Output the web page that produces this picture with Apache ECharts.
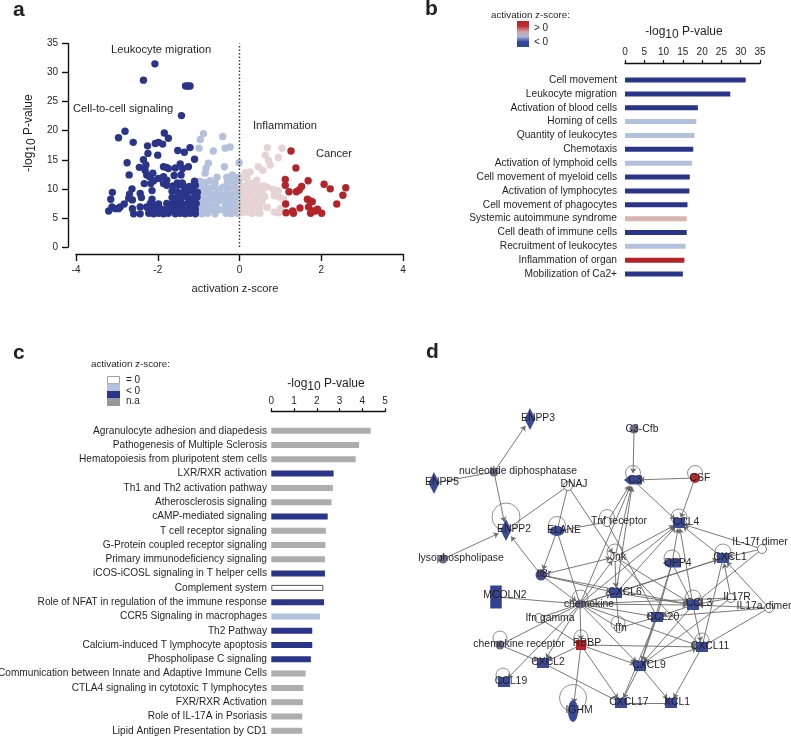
<!DOCTYPE html>
<html>
<head>
<meta charset="utf-8">
<style>html,body{margin:0;padding:0;background:#fff}#c{width:791px;height:736px}</style>
<script src="https://cdn.jsdelivr.net/npm/echarts@6/dist/echarts.min.js"></script>
</head>
<body>
<div id="c"></div>
<script>
// Panel a: [activation z-score, -log10 P]
var volcanoStrongDown = [[-2.07,31.5],[-2.35,28.7],[-1.32,27.7],[-1.26,27.7],[-1.21,27.7],[-1.42,22.6],
[-2.80,19.9],[-2.96,18.8],[-2.60,18.0],[-1.84,19.6],[-1.74,18.7],[-2.06,17.8],[-1.98,18.0],[-1.88,17.7],[-2.25,17.4],[-2.24,16.1],[-2.00,15.8],[-1.51,16.6],[-1.35,16.3],[-1.21,17.1],[-1.10,15.1],
[-2.75,14.5],[-2.35,15.0],[-2.29,14.1],[-2.45,13.7],[-1.86,13.8],[-1.79,13.7],[-1.74,13.5],[-1.57,13.6],[-1.45,14.3],[-1.39,13.5],[-1.25,13.8],[-2.70,12.4],[-2.27,12.4],[-2.31,13.2],[-2.12,12.7],[-2.20,12.1],[-1.98,11.8],[-1.86,12.1],[-1.78,11.5],[-1.60,12.3],[-1.43,12.4],
[-2.33,10.9],[-2.17,10.9],[-2.10,11.4],[-2.14,9.7],[-2.63,10.0],[-2.69,9.1],[-3.11,9.4],[-3.15,8.2],[-2.43,9.2],[-2.40,8.5],[-2.14,8.2],[-2.92,6.9],[-2.82,7.4],[-3.04,6.6],[-3.20,6.2],[-3.12,6.9],[-2.96,6.6],[-2.62,8.1],[-2.71,8.4],[-2.62,6.6],[-2.59,5.7],[-2.43,5.7],[-2.43,6.9],[-2.27,6.9],[-2.18,7.5],[-2.06,7.2],
[-2.22,6.6],[-2.22,5.8],[-2.10,5.7],[-1.98,5.8],[-1.86,5.7],[-1.74,5.8],[-1.57,5.7],[-1.45,5.8],[-1.33,5.7],[-1.21,5.8],[-1.08,5.7],
[-2.10,6.5],[-1.94,6.6],[-1.82,6.4],[-1.70,6.5],[-1.57,6.6],[-1.45,6.5],[-1.33,6.4],[-1.21,6.6],[-1.08,6.5],
[-1.98,7.4],[-1.78,7.5],[-1.65,7.4],[-1.53,7.6],[-1.41,7.5],[-1.29,7.4],[-1.17,7.6],[-1.06,7.5],
[-1.65,8.5],[-1.53,8.4],[-1.41,8.6],[-1.27,8.5],[-1.14,8.4],[-1.04,8.6],
[-1.65,9.6],[-1.52,9.5],[-1.37,9.4],[-1.25,9.6],[-1.12,9.5],[-1.03,9.4],
[-1.78,10.6],[-1.63,10.5],[-1.49,10.7],[-1.37,10.5],[-1.22,10.4],[-1.08,10.6],[-1.86,10.9],[-1.52,11.0],[-1.40,11.0],[-1.10,11.3]];
var volcanoMildDown = [[-0.88,19.5],[-0.96,18.5],[-0.41,19.0],[-0.99,17.0],[-0.64,16.5],[-0.35,17.0],[-0.23,17.2],[-0.01,14.5],[-0.76,14.4],[-0.82,13.5],[-0.37,13.8],[-0.84,12.7],[-0.55,12.0],[-0.17,12.4],[-0.31,12.0],[-0.02,12.0],
[-0.97,11.3],[-0.85,11.1],[-0.72,11.4],[-0.60,11.0],[-0.30,11.2],[-0.20,11.5],[-0.10,11.0],[-0.02,11.3],
[-0.97,10.2],[-0.85,10.3],[-0.75,10.1],[-0.62,10.3],[-0.50,10.0],[-0.40,10.3],[-0.28,10.2],[-0.15,10.3],[-0.05,10.1],
[-0.93,9.2],[-0.80,9.3],[-0.68,9.1],[-0.55,9.2],[-0.42,9.0],[-0.30,9.3],[-0.18,9.1],[-0.05,9.2],
[-0.97,8.2],[-0.83,8.1],[-0.70,8.3],[-0.58,8.2],[-0.47,8.0],[-0.35,8.2],[-0.22,8.3],[-0.10,8.1],[-0.02,8.3],
[-0.95,7.2],[-0.82,7.3],[-0.70,7.1],[-0.57,7.2],[-0.35,7.1],[-0.25,7.3],[-0.13,7.2],[-0.03,7.1],
[-0.98,6.4],[-0.85,6.3],[-0.72,6.5],[-0.60,6.3],[-0.50,6.4],[-0.35,6.3],[-0.25,6.5],[-0.12,6.4],[-0.02,6.3],
[-0.92,5.7],[-0.78,5.8],[-0.60,5.7],[-0.33,5.8],[-0.20,5.7],[-0.05,5.8]];
var volcanoMildUp = [[0.68,17.1],[1.04,17.0],[0.63,15.8],[0.95,15.4],[0.71,14.9],[0.75,14.1],[0.46,13.8],[0.57,13.2],[0.14,12.8],[0.26,12.9],[0.18,11.8],[0.42,11.5],[0.30,10.9],[0.10,12.0],
[0.05,10.5],[0.18,10.6],[0.32,10.4],[0.45,10.6],[0.60,10.5],[0.68,10.3],
[0.10,9.8],[0.25,9.7],[0.40,9.9],[0.55,9.6],[0.83,9.9],[0.95,9.7],
[0.07,8.8],[0.20,8.9],[0.33,8.7],[0.48,8.9],[0.62,8.7],[0.85,8.8],[0.97,8.6],
[0.05,7.7],[0.17,7.8],[0.30,7.6],[0.43,7.7],[0.55,7.8],[1.08,8.2],[0.38,7.1],
[0.10,6.8],[0.25,6.7],[0.38,6.9],[0.50,6.7],[0.68,6.8],[1.00,6.6],
[0.05,5.9],[0.18,6.0],[0.30,5.8],[0.45,5.9],[0.50,5.8],[0.85,6.0],[0.95,5.9],[1.05,6.0]];
var volcanoStrongUp = [[1.26,16.5],[1.38,13.6],[1.12,11.6],[1.12,10.6],[1.21,9.5],[1.39,9.5],[1.46,9.8],[1.52,10.4],[1.68,11.4],[2.07,10.8],[2.22,10.0],[2.60,10.2],[2.53,8.9],[2.38,7.4],[1.13,7.4],[1.66,8.2],[1.73,7.9],[1.78,7.8],[1.69,6.9],[1.48,6.7],[1.30,6.2],[1.14,5.9],[1.32,5.8],[1.74,5.8],[1.85,6.2],[1.91,6.5],[2.01,5.8],[1.79,6.2]];

// Panel b
var functionNames = ["Cell movement","Leukocyte migration","Activation of blood cells","Homing of cells","Quantity of leukocytes","Chemotaxis","Activation of lymphoid cells","Cell movement of myeloid cells","Activation of lymphocytes","Cell movement of phagocytes","Systemic autoimmune syndrome","Cell death of immune cells","Recruitment of leukocytes","Inflammation of organ","Mobilization of Ca2+"];
var functionValues = [31.3,27.3,18.9,18.5,18.0,17.7,17.4,16.8,16.7,16.2,16.0,16.0,15.7,15.4,15.0];
var functionGroups = ["d","d","d","l","l","d","l","d","d","d","p","d","l","r","d"];

// Panel c
var pathwayNames = ["Agranulocyte adhesion and diapedesis","Pathogenesis of Multiple Sclerosis","Hematopoiesis from pluripotent stem cells","LXR/RXR activation","Th1 and Th2 activation pathway","Atherosclerosis signaling","cAMP-mediated signaling","T cell receptor signaling","G-Protein coupled receptor signaling","Primary immunodeficiency signaling","iCOS-iCOSL signaling in T helper cells","Complement system","Role of NFAT in regulation of the immune response","CCR5 Signaling in macrophages","Th2 Pathway","Calcium-induced T lymphocyte apoptosis","Phospholipase C signaling","Communication between Innate and Adaptive Immune Cells","CTLA4 signaling in cytotoxic T lymphocytes","FXR/RXR Activation","Role of IL-17A in Psoriasis","Lipid Antigen Presentation by CD1"];
var pathwayValues = [4.37,3.86,3.71,2.74,2.71,2.65,2.48,2.40,2.38,2.36,2.36,2.29,2.32,2.14,1.80,1.80,1.74,1.51,1.41,1.39,1.36,1.36];
var pathwayGroups = ["n","n","n","d","n","n","d","n","n","n","d","z","d","l","d","d","d","n","n","n","n","n"];

// Panel d: network layout [name, x, y, kind, labelDx, labelDy]
var networkNodes = [
["ENPP3",530,419,"dia",8,-1],["nucleotide diphosphatase",494,472,"grey",24,-1],["ENPP5",434,483,"dia",8,-1],["ENPP2",506,530,"dia",8,-1],
["DNAJ",568,486,"white",6,-2],["ELANE",557,531,"ell",7,-1],["lysophospholipase",443,559,"grey",18,-1],["C3-Cfb",634,429,"grey",8,0],
["C3",633,480,"wide",2,0],["CSF",695,478,"red",5,0],["CCL4",679,523,"sq",7,-1],["IL-17f dimer",762,549,"white",-2,-7],
["CXCL1",723,558,"sq",7,-1],["DPP4",672,563,"wide",6,0],["Tnf receptor",607,522,"white",12,-1],["Jnk",615,557,"white",3,0],
["Il8r",541,575,"ell2",3,-1],["CXCL6",616,593,"sq",9,-1],["CCL3",693,605,"sq",6,-2],["IL17R",731,598,"white",6,-1],
["IL17a dimer",769,608,"white",-5,-2],["CCL20",657,617,"sq",6,0],["chemokine",580,604,"grey",9,0],["MCOLN2",496,597,"tall",9,-2],
["Ifn gamma",539,618,"white",11,0],["Ifn",619,628,"white",2,0],["chemokine receptor",500,645,"grey",19,-1],["RBBP",581,645,"redsq",6,-2],
["CXCL2",543,663,"sq",5,-1],["CXCL9",640,666,"sq",9,-1],["CXCL11",702,647,"sq",8,-1],["CCL19",504,682,"sq",7,-1],
["CXCL17",621,703,"sq",8,-1],["XCL1",671,703,"sq",6,-1],["IGHM",573,711,"tallell",6,-1]];
// self-loops: [centre x, centre y, diameter]
var networkLoops = [[506,517,28],[557,525,17],[633,473,15],[695,473,15],[679,517,16],[723,552,16],[672,558,16],[607,517,15],[615,552,16],[693,598,16],[580,598,16],[618,623,14],[500,638,14],[581,637,14],[702,640,14],[503,675,14],[573,698,27]];
// edges: [from, to, arrow at end]
var networkEdges = [
["nucleotide diphosphatase","ENPP3",1],["nucleotide diphosphatase","ENPP5",0],["nucleotide diphosphatase","ENPP2",1],["ENPP2","DNAJ",0],["lysophospholipase","ENPP2",1],["Il8r","ENPP2",1],
["DNAJ","ELANE",0],["DNAJ","Jnk",1],["ELANE","Il8r",1],["ELANE","chemokine",0],["Tnf receptor","ELANE",0],["C3-Cfb","C3",1],["CSF","C3",1],["C3","CCL4",1],["CSF","CCL4",1],
["Jnk","C3",1],["Tnf receptor","C3",1],["chemokine","C3",1],["CXCL6","C3",1],["Il8r","Jnk",1],["IL-17f dimer","CCL4",1],["CXCL1","CCL4",1],["DPP4","CCL4",1],["CCL3","CCL4",1],["Jnk","CCL4",1],["chemokine","CCL4",1],["CXCL6","CCL4",1],
["IL-17f dimer","CXCL1",1],["IL17a dimer","CXCL1",1],["IL17R","CXCL1",1],["IL-17f dimer","CCL3",1],["chemokine","CXCL1",1],["CXCL6","CXCL1",1],["Jnk","CCL3",1],["DPP4","CCL20",0],["DPP4","CCL3",0],["CCL3","CCL20",1],
["IL17a dimer","CCL3",1],["IL17R","CCL3",1],["IL17a dimer","CCL20",0],["IL17a dimer","CXCL11",0],["IL17R","CXCL9",1],["CXCL6","CCL3",1],["chemokine","CCL3",1],["chemokine","IL17R",0],["chemokine","CCL20",1],["chemokine","CXCL11",1],["chemokine","CXCL9",1],["chemokine","CXCL6",1],["chemokine","Ifn",0],["chemokine","RBBP",1],["chemokine","CXCL2",1],["chemokine","CCL19",1],["chemokine","chemokine receptor",0],
["MCOLN2","chemokine",0],["Ifn gamma","chemokine",0],["Ifn gamma","RBBP",0],["RBBP","CXCL9",1],["RBBP","CXCL11",1],["RBBP","CXCL2",1],["RBBP","CXCL17",1],["RBBP","IGHM",1],["chemokine receptor","CXCL2",1],["CXCL2","CXCL17",0],
["CXCL9","CXCL17",1],["CXCL9","XCL1",1],["CXCL11","XCL1",1],["CXCL17","XCL1",0],["CXCL9","CXCL11",1],["CCL20","CXCL9",1],["CCL3","CXCL9",1],["Ifn","CXCL6",0],["Ifn","CCL20",0],["Il8r","chemokine",1],["Il8r","CXCL6",1],["CCL20","CXCL17",0],["Jnk","CXCL6",1],["CCL3","CXCL11",1],["CXCL1","CXCL11",0],["Tnf receptor","CCL20",0],["Jnk","CXCL11",0],["chemokine","Jnk",1],["Il8r","CCL3",0],["DPP4","CXCL9",0]];

var FONT = '"Liberation Sans",Arial,sans-serif', INK = '#231f20';
var DARK = '#2a3589', LIGHT = '#b4c1dd', PINK = '#e6d4d4', RED = '#b4232a', GREY = '#adadad';
var groupColors = {d:DARK, l:LIGHT, p:'#d9b5b2', r:RED, n:GREY, z:'#ffffff'};

var ellipse = 'path://M50,0A50,50 0 1 1 50,100A50,50 0 1 1 50,0Z';
var widePath = 'path://M0,50L30,25L100,25L100,75L30,75Z';
var nodeKinds = {
  dia:{s:'diamond',z:[11,22],c:'#3a4a94'}, grey:{s:'circle',z:9,c:'#6d6f8a'}, white:{s:'circle',z:9,c:'#ffffff',b:'#777'},
  ell:{s:ellipse,z:[15,10],c:'#3a4a94'}, ell2:{s:ellipse,z:[11,11],c:'#4b4f88'}, wide:{s:widePath,z:[18,9],c:'#3a4a94'},
  red:{s:'circle',z:10,c:'#b02a30'}, sq:{s:'rect',z:[12,10],c:'#3a4a94'}, tall:{s:'rect',z:[11.5,23],c:'#33438f'},
  redsq:{s:'rect',z:[10,10],c:'#c01f26'}, tallell:{s:ellipse,z:[10,22],c:'#3a4a94'}
};

function barSeries(vals, groups, grid, width) {
  return {type:'bar', xAxisIndex:grid, yAxisIndex:grid, barWidth:width, silent:true,
    data: vals.map(function(v,i){ var g=groups[i]; return {value:v, itemStyle:{color:groupColors[g], borderColor:g==='z'?'#555':null, borderWidth:g==='z'?1:0}}; })};
}
function scatter(points,color){
  return {type:'scatter', xAxisIndex:0, yAxisIndex:0, symbolSize:7.4, data:points, itemStyle:{color:color,opacity:1}, silent:true};
}
function axisCommon(extra){
  var a = {axisLine:{show:true,onZero:false,lineStyle:{color:'#111',width:1.4}}, axisTick:{show:true,lineStyle:{color:'#111',width:1.2}},
    axisLabel:{color:INK,fontSize:10,fontFamily:FONT}, splitLine:{show:false}};
  for (var k in extra) a[k]=extra[k];
  return a;
}
function logTitle(x,y,rot){
  return {type:'text', x:x, y:y, rotation:rot||0, silent:true, style:{text:'{a|-log}{s|10}{a| P-value}', align:'center', verticalAlign:'middle',
    rich:{a:{fontSize:12,fontFamily:FONT,fill:INK}, s:{fontSize:12,fontFamily:FONT,fill:INK,padding:[6,0,0,0]}}}};
}
function txt(t,x,y,size,opt){
  opt=opt||{};
  return {type:'text',x:x,y:y,silent:true,style:{text:t,fontSize:size,fontFamily:FONT,fontWeight:opt.w||'normal',fill:opt.c||INK,align:opt.a||'left',verticalAlign:'middle'}};
}
function box(x,y,w,h,fill,stroke){
  return {type:'rect',silent:true,shape:{x:x,y:y,width:w,height:h},style:{fill:fill,stroke:stroke||null,lineWidth:stroke?0.8:0}};
}

var graphics = [
  txt('a',13,10,21,{w:'bold'}), txt('b',425,9,21,{w:'bold'}), txt('c',13,353,21,{w:'bold'}), txt('d',426,352,21,{w:'bold'}),
  txt('Leukocyte migration',111,49.5,11.2), txt('Cell-to-cell signaling',73,108.5,11.2), txt('Inflammation',253,126,11.2), txt('Cancer',316,154,11.2),
  txt('activation z-score',235,289,11.2,{a:'center'}), logTitle(29,133,Math.PI/2),
  txt('activation z-score:',491,15,9.8), box(517,21,12,26,{type:'linear',x:0,y:0,x2:0,y2:1,colorStops:[{offset:0,color:'#b4232a'},{offset:.2,color:'#c22d33'},{offset:.4,color:'#d3a0a2'},{offset:.6,color:'#a9bade'},{offset:.8,color:'#33459b'},{offset:1,color:'#33459b'}]}),
  txt('> 0',534,28,10), txt('< 0',534,42.5,10), logTitle(684,32),
  txt('activation z-score:',91,364.5,9.8), box(107.5,376.5,12,7,'#fff','#888'), box(107,383.5,13,7.5,LIGHT), box(107,391,13,7.5,DARK), box(107,398.5,13,7.5,'#999'),
  txt('= 0',126,380,10), txt('< 0',126,391,10), txt('n.a',126,401.5,10), logTitle(326,384)
];

var chart = echarts.init(document.getElementById('c'), null, {renderer:'canvas'});
chart.setOption({
  animation:false, backgroundColor:'#fff', textStyle:{fontFamily:FONT},
  grid:[
    {left:76,top:43.5,width:327,height:203.5,outerBoundsMode:'none'},
    {left:625,top:73.1,width:135,height:207.9,outerBoundsMode:'none'},
    {left:271.3,top:423.6,width:113.7,height:314.3,outerBoundsMode:'none'},
    {left:0,top:0,width:791,height:736,outerBoundsMode:'none'}
  ],
  xAxis:[
    axisCommon({type:'value',gridIndex:0,min:-4,max:4,interval:2,position:'bottom',offset:7,axisTick:{show:true,length:7,lineStyle:{color:'#111',width:1.4}},axisLabel:{color:INK,fontSize:10,fontFamily:FONT,margin:11}}),
    axisCommon({type:'value',gridIndex:1,min:0,max:35,interval:5,position:'top',offset:9.6,axisTick:{show:true,length:3.5,lineStyle:{color:'#111',width:1.2}},axisLabel:{color:INK,fontSize:10,fontFamily:FONT,margin:6}}),
    axisCommon({type:'value',gridIndex:2,min:0,max:5,interval:1,position:'top',offset:11.9,axisTick:{show:true,length:3.5,lineStyle:{color:'#111',width:1.2}},axisLabel:{color:INK,fontSize:10,fontFamily:FONT,margin:5}}),
    {type:'value',gridIndex:3,min:0,max:791,show:false}
  ],
  yAxis:[
    axisCommon({type:'value',gridIndex:0,min:0,max:35,interval:5,position:'left',offset:8,axisTick:{show:true,length:6,lineStyle:{color:'#111',width:1.4}},axisLabel:{color:INK,fontSize:10,fontFamily:FONT,margin:10}}),
    {type:'category',gridIndex:1,inverse:true,data:functionNames,axisLine:{show:false},axisTick:{show:false},axisLabel:{color:INK,fontSize:10.2,fontFamily:FONT,margin:8,interval:0}},
    {type:'category',gridIndex:2,inverse:true,data:pathwayNames,axisLine:{show:false},axisTick:{show:false},axisLabel:{color:INK,fontSize:10.15,fontFamily:FONT,margin:4.3,interval:0}},
    {type:'value',gridIndex:3,min:0,max:736,inverse:true,show:false}
  ],
  graphic:graphics,
  series:[
    scatter(volcanoMildDown,LIGHT), scatter(volcanoMildUp,PINK), scatter(volcanoStrongDown,DARK), scatter(volcanoStrongUp,RED),
    {type:'line',xAxisIndex:0,yAxisIndex:0,data:[[0,0],[0,35]],symbol:'none',silent:true,lineStyle:{color:'#333',width:1.4,type:[1.5,2]}},
    barSeries(functionValues,functionGroups,1,5),
    barSeries(pathwayValues,pathwayGroups,2,6),
    {type:'scatter',xAxisIndex:3,yAxisIndex:3,silent:true,z:2,
      data:networkLoops.map(function(l){return {value:[l[0],l[1]],symbolSize:l[2]};}),
      symbol:'circle',itemStyle:{color:'rgba(255,255,255,0)',borderColor:'#666',borderWidth:0.9}},
    {type:'graph',coordinateSystem:'cartesian2d',xAxisIndex:3,yAxisIndex:3,silent:true,z:3,layout:'none',
      data:networkNodes.map(function(n){var k=nodeKinds[n[3]];return {name:n[0],value:[n[1],n[2]],symbol:k.s,symbolSize:k.z,symbolKeepAspect:false,
        itemStyle:{color:k.c,borderColor:k.b||k.c,borderWidth:k.b?1:0},
        label:{show:true,position:'inside',offset:[n[4],n[5]],color:INK,fontSize:10.4,fontFamily:FONT}};}),
      edges:networkEdges.map(function(e){return {source:e[0],target:e[1],symbol:['none',e[2]?'arrow':'none'],symbolSize:[0,5]};}),
      lineStyle:{color:'#6a6a6a',width:0.9,opacity:1,curveness:0},
      emphasis:{disabled:true}}
  ]
});
</script>
</body>
</html>
